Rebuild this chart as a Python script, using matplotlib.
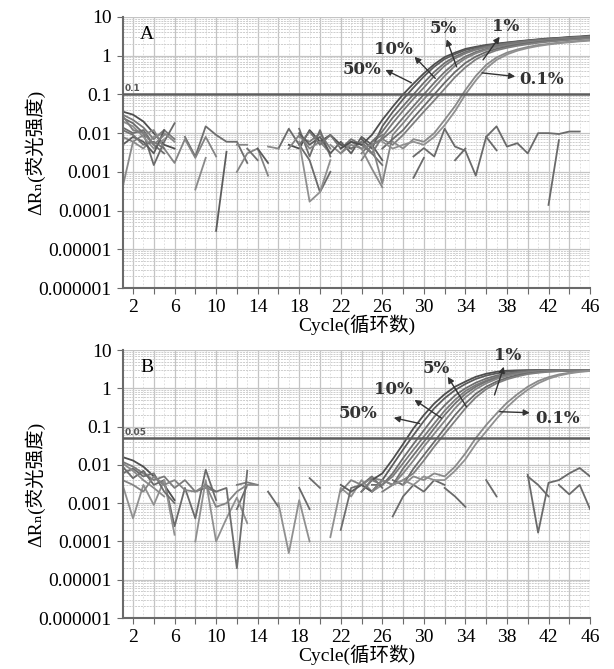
import numpy as np
import matplotlib.pyplot as plt
from matplotlib.ticker import FixedLocator, FixedFormatter, NullFormatter

N = np.nan

# ---------------- data ----------------
amp_cycles = np.arange(22, 47)      # cycles for amplification curves
noise_cycles = np.arange(1, 27)     # cycles for baseline noise traces
ntc_cycles_a = np.arange(28, 47)
stray_cycles_b = np.arange(26, 39)
ntc_cycles_b = np.arange(40, 47)

# panel A amplification curves (50%, 10%, 5%, 1%, 0.1% ; two replicates each)
a_50_1 = [0.004, 0.006, 0.005, 0.009, 0.022, 0.048, 0.10, 0.19, 0.35, 0.6, 0.92, 1.2, 1.5, 1.7, 1.9, 2.05, 2.2, 2.35, 2.5, 2.65, 2.8, 2.9, 3.05, 3.15, 3.3]
a_50_2 = [N, N, 0.007, 0.004, 0.015, 0.035, 0.075, 0.15, 0.29, 0.52, 0.82, 1.1, 1.4, 1.62, 1.82, 2.0, 2.15, 2.3, 2.45, 2.6, 2.72, 2.85, 2.95, 3.05, 3.2]
a_10_1 = [N, N, N, 0.006, 0.011, 0.025, 0.05, 0.10, 0.2, 0.38, 0.65, 0.95, 1.25, 1.5, 1.72, 1.9, 2.08, 2.25, 2.4, 2.55, 2.68, 2.8, 2.92, 3.02, 3.15]
a_10_2 = [N, N, 0.006, 0.003, 0.008, 0.018, 0.038, 0.077, 0.15, 0.3, 0.55, 0.85, 1.15, 1.42, 1.65, 1.85, 2.02, 2.2, 2.35, 2.5, 2.62, 2.75, 2.88, 3.0, 3.1]
a_5_1 = [N, N, N, 0.005, 0.007, 0.012, 0.025, 0.05, 0.1, 0.2, 0.38, 0.65, 0.95, 1.25, 1.5, 1.72, 1.92, 2.1, 2.25, 2.4, 2.55, 2.68, 2.8, 2.92, 3.05]
a_5_2 = [0.003, 0.005, 0.004, 0.005, 0.0005, 0.009, 0.018, 0.038, 0.075, 0.15, 0.3, 0.55, 0.85, 1.15, 1.42, 1.65, 1.85, 2.02, 2.2, 2.35, 2.48, 2.6, 2.72, 2.85, 2.98]
a_1_1 = [N, N, N, N, 0.004, 0.007, 0.012, 0.025, 0.05, 0.1, 0.2, 0.38, 0.65, 0.95, 1.25, 1.5, 1.72, 1.92, 2.1, 2.25, 2.4, 2.52, 2.65, 2.78, 2.9]
a_1_2 = [N, N, N, 0.005, 0.007, 0.005, 0.009, 0.018, 0.036, 0.07, 0.14, 0.28, 0.5, 0.8, 1.1, 1.38, 1.6, 1.8, 1.98, 2.15, 2.3, 2.42, 2.55, 2.68, 2.8]
a_01_1 = [N, N, N, N, N, 0.006, 0.004, 0.007, 0.006, 0.01, 0.022, 0.05, 0.13, 0.3, 0.58, 0.9, 1.2, 1.45, 1.68, 1.88, 2.02, 2.18, 2.3, 2.42, 2.55]
a_01_2 = [N, N, N, N, 0.006, 0.004, 0.005, 0.006, 0.005, 0.008, 0.016, 0.037, 0.1, 0.23, 0.47, 0.78, 1.08, 1.35, 1.58, 1.78, 1.95, 2.1, 2.22, 2.35, 2.45]

# panel A baseline noise, cycles 1-26
na1 = [0.036, 0.030, 0.020, 0.010, 0.005, 0.004, N, N, N, N, N, N, N, N, N, N, 0.005, 0.004, 0.012, 0.006, 0.009, 0.005, 0.004, N, N, N]
na2 = [0.030, 0.022, 0.014, 0.007, 0.012, 0.007, N, N, N, N, N, N, N, N, N, N, N, 0.008, 0.006, 0.010, 0.004, N, N, 0.003, 0.006, 0.009]
na3 = [0.025, 0.018, 0.010, 0.0015, 0.006, 0.018, N, N, N, N, N, N, N, N, N, 0.004, 0.013, 0.005, 0.002, 0.0003, 0.001, N, N, N, N, N]
na4 = [0.020, 0.015, 0.008, 0.004, 0.007, N, N, N, N, N, N, N, N, N, N, N, N, 0.006, 0.00017, 0.0003, 0.002, N, N, N, N, N]
na5 = [0.014, 0.010, 0.012, 0.005, 0.003, N, 0.008, 0.0025, 0.015, 0.009, 0.006, 0.006, 0.0017, N, N, N, N, 0.013, 0.0025, 0.012, 0.0025, N, 0.004, 0.006, 0.003, 0.0015]
na6 = [0.008, 0.006, 0.009, 0.012, 0.004, 0.0017, 0.007, 0.0023, 0.008, 0.0025, N, 0.001, 0.003, 0.004, 0.0008, N, 0.004, 0.009, 0.004, 0.006, 0.003, N, N, 0.002, 0.005, 0.007]
na7 = [0.0004, 0.006, 0.004, 0.008, 0.010, 0.006, N, 0.00035, 0.0023, N, N, 0.005, 0.005, N, 0.0045, 0.004, N, N, N, N, 0.005, 0.003, 0.006, 0.004, 0.0012, 0.0004]
na8 = [0.005, 0.008, 0.006, 0.003, 0.012, N, N, N, N, 0.00003, 0.0033, N, N, 0.004, 0.0017, N, N, 0.010, 0.005, 0.008, 0.003, 0.006, 0.003, 0.008, 0.005, 0.002]
na9 = [0.012, 0.009, 0.005, 0.006, 0.004, N, N, N, N, N, N, N, 0.004, 0.002, N, N, N, 0.005, 0.011, 0.005, 0.009, 0.004, 0.007, 0.005, 0.003, N]
na10 = [0.028, 0.012, 0.010, 0.005, 0.009, N, N, N, N, N, N, N, N, N, N, N, N, N, N, N, N, N, N, N, N, N]

# panel A no-template control, cycles 28-46
ntc_a1 = [N, 0.0025, 0.0041, 0.0025, 0.013, 0.0045, 0.0035, 0.0008, 0.008, 0.015, 0.0045, 0.0055, 0.003, 0.01, 0.01, 0.0095, 0.011, 0.011, N]
ntc_a2 = [N, 0.0007, 0.0023, N, N, 0.002, 0.004, N, 0.008, 0.0036, N, N, N, N, N, N, N, N, N]
ntc_a3 = [N, N, N, N, N, N, N, N, N, N, N, N, N, N, 0.00014, 0.0066, N, N, N]

# panel B amplification curves
b_50_1 = [N, N, 0.002, 0.004, 0.006, 0.014, 0.035, 0.09, 0.2, 0.4, 0.7, 1.1, 1.5, 2.0, 2.4, 2.7, 2.88, 2.95, 2.98, 3.0, 3.0, 3.0, 3.0, 3.0, 3.0]
b_50_2 = [0.003, 0.002, 0.003, 0.002, 0.004, 0.01, 0.025, 0.06, 0.14, 0.3, 0.55, 0.9, 1.3, 1.75, 2.15, 2.45, 2.7, 2.82, 2.9, 2.95, 2.97, 2.97, 2.97, 2.97, 2.97]
b_10_1 = [N, N, N, 0.003, 0.003, 0.006, 0.015, 0.035, 0.08, 0.18, 0.36, 0.65, 1.0, 1.4, 1.8, 2.15, 2.45, 2.65, 2.8, 2.88, 2.93, 2.95, 2.96, 2.97, 2.97]
b_10_2 = [N, N, 0.002, 0.004, 0.003, 0.005, 0.011, 0.025, 0.055, 0.12, 0.26, 0.5, 0.85, 1.22, 1.6, 1.98, 2.3, 2.55, 2.72, 2.83, 2.9, 2.93, 2.95, 2.96, 2.97]
b_5_1 = [N, N, N, N, 0.004, 0.003, 0.008, 0.018, 0.04, 0.09, 0.2, 0.4, 0.72, 1.1, 1.5, 1.88, 2.2, 2.48, 2.66, 2.78, 2.86, 2.9, 2.93, 2.95, 2.96]
b_5_2 = [N, N, N, 0.002, 0.004, 0.003, 0.006, 0.013, 0.03, 0.065, 0.14, 0.3, 0.58, 0.95, 1.35, 1.75, 2.1, 2.4, 2.6, 2.74, 2.83, 2.88, 2.92, 2.94, 2.95]
b_1_1 = [N, N, N, N, N, 0.004, 0.003, 0.008, 0.018, 0.04, 0.09, 0.2, 0.4, 0.72, 1.1, 1.5, 1.88, 2.2, 2.45, 2.62, 2.75, 2.83, 2.88, 2.92, 2.94]
b_1_2 = [N, N, N, N, 0.002, 0.003, 0.004, 0.006, 0.013, 0.03, 0.065, 0.14, 0.3, 0.58, 0.95, 1.35, 1.72, 2.05, 2.35, 2.55, 2.7, 2.8, 2.86, 2.9, 2.93]
b_01_1 = [N, N, N, N, N, N, 0.003, 0.005, 0.004, 0.006, 0.005, 0.009, 0.02, 0.05, 0.11, 0.22, 0.42, 0.7, 1.1, 1.55, 1.95, 2.3, 2.55, 2.75, 2.88]
b_01_2 = [N, N, N, N, N, 0.003, 0.004, 0.003, 0.005, 0.004, 0.004, 0.007, 0.014, 0.035, 0.075, 0.16, 0.32, 0.57, 0.92, 1.35, 1.78, 2.15, 2.45, 2.68, 2.83]

# panel B baseline noise, cycles 1-26
nb1 = [0.016, 0.013, 0.009, 0.005, 0.003, 0.0012, N, N, N, N, N, N, N, N, N, N, N, N, N, N, N, N, N, N, N, N]
nb2 = [0.012, 0.009, 0.006, 0.004, 0.005, 0.0025, 0.004, 0.002, 0.0025, 0.002, N, 0.003, 0.0035, 0.003, N, N, N, N, N, N, N, N, N, 0.003, 0.002, 0.004]
nb3 = [0.009, 0.0045, 0.007, 0.003, 0.004, 0.00025, 0.0025, 0.0004, 0.0075, 0.0012, N, 0.0007, 0.003, N, 0.002, 0.0008, N, 0.0025, 0.0007, N, N, N, N, N, N, N]
nb4 = [0.003, 0.0004, 0.003, 0.0009, 0.004, 0.00015, N, 0.0001, 0.004, 0.0001, 0.0004, 0.0014, 0.0003, N, N, 0.001, 0.00005, 0.0012, 0.0001, N, 0.00013, 0.0025, 0.0015, 0.004, 0.002, 0.003]
nb5 = [0.006, 0.008, 0.005, 0.006, 0.002, 0.001, N, N, 0.003, 0.002, 0.0025, 0.00002, 0.007, N, N, N, N, N, 0.0045, 0.0025, N, 0.0002, 0.0025, 0.003, 0.005, 0.0025]
nb6 = [0.004, 0.003, 0.002, 0.005, 0.003, 0.004, 0.0022, 0.002, 0.003, 0.0008, 0.001, 0.002, 0.003, 0.003, N, N, N, N, N, N, N, 0.002, 0.004, 0.003, 0.0045, 0.004]
nb7 = [0.011, 0.007, 0.004, 0.0025, 0.0015, N, N, N, N, N, N, N, N, N, N, N, N, N, N, N, N, N, N, N, N, N]

# panel B stray segments (cycles 26-38) and no-template controls (cycles 40-46)
sb1 = [N, N, N, N, N, N, 0.0025, 0.0015, 0.0008, N, N, N, N]
sb2 = [N, N, N, N, N, N, N, N, N, N, 0.004, 0.0015, N]
sb3 = [N, 0.00045, 0.0015, 0.003, 0.002, 0.004, 0.003, N, N, N, N, N, N]
ntc_b1 = [0.0055, 0.00017, 0.0034, 0.004, 0.006, 0.0083, 0.005]
ntc_b2 = [0.005, 0.003, 0.0015, N, N, N, N]
ntc_b3 = [N, N, N, 0.003, 0.0017, 0.003, 0.0007]

amp_a = [a_50_1, a_50_2, a_10_1, a_10_2, a_5_1, a_5_2, a_1_1, a_1_2, a_01_1, a_01_2]
amp_b = [b_50_1, b_50_2, b_10_1, b_10_2, b_5_1, b_5_2, b_1_1, b_1_2, b_01_1, b_01_2]
noise_a = [na1, na2, na3, na4, na5, na6, na7, na8, na9, na10]
noise_b = [nb1, nb2, nb3, nb4, nb5, nb6, nb7]

conc_labels = ['50%', '10%', '5%', '1%', '0.1%']
ytick_vals = [1e-6, 1e-5, 1e-4, 1e-3, 1e-2, 1e-1, 1, 10]
ytick_text = ['0.000001', '0.00001', '0.0001', '0.001', '0.01', '0.1', '1', '10']
xtick_vals = list(range(2, 47, 2))
xtick_text = [str(c) if (c - 2) % 4 == 0 else '' for c in xtick_vals]

# label position, arrow head, arrow tail (cycle, value)
ann_a = [((24.0, 0.45), (26.3, 0.43), (28.8, 0.2)),
         ((27.1, 1.46), (29.1, 0.94), (31.1, 0.26)),
         ((31.9, 5.1), (32.2, 2.65), (33.15, 0.52)),
         ((37.9, 5.85), (37.3, 3.1), (35.7, 0.78)),
         ((41.3, 0.245), (38.8, 0.29), (35.6, 0.36))]
ann_b = [((23.7, 0.22), (27.1, 0.17), (29.6, 0.12)),
         ((27.1, 0.93), (29.1, 0.5), (31.7, 0.166)),
         ((31.2, 3.3), (32.3, 2.0), (34.1, 0.33)),
         ((38.1, 7.4), (37.7, 3.67), (36.8, 0.67)),
         ((42.9, 0.166), (40.2, 0.23), (37.3, 0.245))]

serif = ['Liberation Serif', 'DejaVu Serif', 'Noto Sans CJK SC']
greys = ['#4e4e4e', '#5c5c5c', '#6e6e6e', '#7a7a7a', '#727272', '#848484', '#6a6a6a', '#7e7e7e', '#8a8a8a', '#909090']


def draw_panel(ax, letter, amp, noise, extras, threshold, thr_text, ann):
    ax.set_yscale('log')
    ax.set_xlim(1, 46)
    ax.set_ylim(1e-6, 10)

    # grid
    ax.yaxis.set_major_locator(FixedLocator(ytick_vals))
    ax.yaxis.set_major_formatter(FixedFormatter(ytick_text))
    ax.yaxis.set_minor_locator(FixedLocator([m * 10.0 ** e for e in range(-6, 1) for m in range(2, 10)]))
    ax.yaxis.set_minor_formatter(NullFormatter())
    ax.xaxis.set_major_locator(FixedLocator(xtick_vals))
    ax.xaxis.set_major_formatter(FixedFormatter(xtick_text))
    ax.xaxis.set_minor_locator(FixedLocator(list(range(1, 47, 2))))
    ax.grid(True, which='major', axis='both', color='#c4c4c4', lw=0.9)
    ax.grid(True, which='minor', axis='y', color='#cdcdcd', lw=0.7, ls=(0, (2, 1)))
    ax.grid(True, which='minor', axis='x', color='#dadada', lw=0.6, ls=(0, (2, 2)))
    ax.set_axisbelow(True)

    for i, tr in enumerate(noise):
        ax.plot(noise_cycles, tr, color=greys[(i * 3) % len(greys)], lw=1.3)
    for cyc, tr in extras:
        ax.plot(cyc, tr, color='#6a6a6a', lw=1.3)
    for i, tr in enumerate(amp):
        ax.plot(amp_cycles, tr, color=greys[i], lw=1.3)

    ax.axhline(threshold, color='#5e5e5e', lw=1.8, zorder=5)
    ax.text(1.15, threshold * 1.08, thr_text, fontsize=6.5, fontweight='bold',
            color='#555555', va='bottom', ha='left', family='DejaVu Sans')

    for lab, (txt_xy, head, tail) in zip(conc_labels, ann):
        ax.text(txt_xy[0], txt_xy[1], lab, fontsize=12, fontweight='bold',
                family='DejaVu Serif', color='#333333', ha='center', va='center', zorder=7)
        ax.annotate('', xy=head, xytext=tail, zorder=7,
                    arrowprops=dict(arrowstyle='-|>', color='#333333', lw=1.0,
                                    mutation_scale=9, shrinkA=0, shrinkB=0))

    for s in ['top', 'right']:
        ax.spines[s].set_visible(False)
    for s in ['left', 'bottom']:
        ax.spines[s].set_color('#6a6a6a')
        ax.spines[s].set_linewidth(1.5)
    ax.tick_params(axis='both', which='major', labelsize=14, length=4, color='#6a6a6a', pad=4)
    ax.tick_params(axis='both', which='minor', length=0)
    for t in ax.get_xticklabels() + ax.get_yticklabels():
        t.set_family(serif)

    ax.text(0.052, 0.935, letter, transform=ax.transAxes, fontsize=14,
            family=serif, ha='center', va='center')
    ax.text(-0.187, 0.5, 'ΔRₙ(荧光强度)', transform=ax.transAxes, rotation=90,
            fontsize=14, family=serif, ha='center', va='center')
    ax.text(0.5, -0.137, 'Cycle(循环数)', transform=ax.transAxes,
            fontsize=14, family=serif, ha='center', va='center')


fig = plt.figure(figsize=(6.14, 6.69), dpi=100)
ax_a = fig.add_axes([0.1997, 0.5695, 0.7613, 0.4051])
ax_b = fig.add_axes([0.1997, 0.0762, 0.7613, 0.4006])

draw_panel(ax_a, 'A', amp_a, noise_a,
           [(ntc_cycles_a, ntc_a1), (ntc_cycles_a, ntc_a2), (ntc_cycles_a, ntc_a3)],
           0.1, '0.1', ann_a)
draw_panel(ax_b, 'B', amp_b, noise_b,
           [(stray_cycles_b, sb1), (stray_cycles_b, sb2), (stray_cycles_b, sb3),
            (ntc_cycles_b, ntc_b1), (ntc_cycles_b, ntc_b2), (ntc_cycles_b, ntc_b3)],
           0.05, '0.05', ann_b)

fig.savefig('out.png', dpi=100, facecolor='white')
